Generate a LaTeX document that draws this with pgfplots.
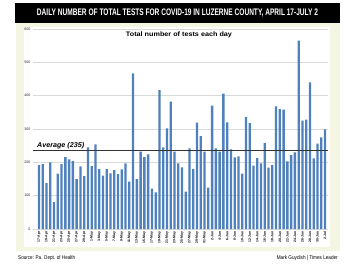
\documentclass[border=0pt]{standalone}
\usepackage{pgfplots}
\pgfplotsset{compat=1.18}
\usepackage{pgfplotstable}
\usepackage{graphicx}
\usepackage{fontspec}
\setmainfont{Liberation Sans}
\definecolor{barblue}{RGB}{79,129,189}
\definecolor{cream}{RGB}{245,245,228}
\definecolor{gridgray}{RGB}{217,217,217}
\definecolor{ticktext}{RGB}{40,40,40}
\pgfplotstableread{
idx val
0 192
1 195
2 138
3 200
4 81
5 166
6 195
7 216
8 209
9 204
10 150
11 188
12 159
13 245
14 189
15 254
16 180
17 160
18 180
19 167
20 177
21 165
22 179
23 197
24 142
25 467
26 150
27 232
28 216
29 224
30 121
31 110
32 417
33 245
34 302
35 382
36 232
37 197
38 185
39 112
40 242
41 180
42 319
43 279
44 232
45 124
46 370
47 242
48 232
49 406
50 320
51 239
52 215
53 218
54 166
55 336
56 318
57 190
58 213
59 197
60 258
61 184
62 192
63 368
64 360
65 358
66 203
67 222
68 230
69 565
70 325
71 328
72 440
73 212
74 256
75 275
76 299
}\datatable
\begin{document}
\begin{tikzpicture}
\fill[white] (0pt,0pt) rectangle (360pt,-279pt);
\fill[black] (15pt,-3pt) rectangle (340pt,-23pt);
\fill[cream] (16pt,-23pt) rectangle (340pt,-251pt);
\fill[white] (24pt,-27pt) rectangle (330pt,-247pt);
\begin{axis}[
  at={(33pt,-229pt)}, anchor=south west,
  scale only axis, width=295pt, height=200pt,
  ymin=0, ymax=600, xmin=-1.6, xmax=76.8,
  ytick={0,100,...,600},
  xtick={0,2,...,76},
  xticklabels={17-Apr,19-Apr,21-Apr,23-Apr,25-Apr,27-Apr,29-Apr,1-May,3-May,5-May,7-May,9-May,11-May,13-May,15-May,17-May,19-May,21-May,23-May,25-May,27-May,29-May,31-May,2-Jun,4-Jun,6-Jun,8-Jun,10-Jun,12-Jun,14-Jun,16-Jun,18-Jun,20-Jun,22-Jun,24-Jun,26-Jun,28-Jun,30-Jun,2-Jul},
  /pgf/number format/assume math mode=true,
  yticklabel style={font=\fontsize{3.6}{4}\selectfont, text=ticktext},
  xticklabel style={font=\fontsize{3.4}{4}\selectfont\bfseries, text=black, rotate=90, anchor=east},
  ymajorgrids, grid style={gridgray, line width=0.5pt},
  axis line style={draw=none},
  major tick length=0pt,
  yticklabel shift=-1pt,
  xticklabel shift=-1pt,
  ybar, bar width=2.3pt,
  clip=false,
]
\addplot[fill=barblue, draw=none] table[x=idx, y=val] {\datatable};
\draw[black!80, line width=0.8pt] (axis cs:-1.6,235) -- (axis cs:76.8,235);
\end{axis}
\node[text=white, font=\fontsize{9.5}{10}\selectfont\bfseries, anchor=center] at (177.5pt,-13pt) {\resizebox{281pt}{\height}{DAILY NUMBER OF TOTAL TESTS FOR COVID-19 IN LUZERNE COUNTY, APRIL 17-JULY 2}};
\node[font=\fontsize{6.5}{7}\selectfont\bfseries, anchor=center, inner sep=0pt] at (179pt,-34.5pt) {\resizebox{106pt}{\height}{Total number of tests each day}};
\node[font=\fontsize{7}{8}\selectfont\bfseries\itshape, anchor=west, inner sep=0pt] at (37pt,-146pt) {\resizebox{47pt}{\height}{Average (235)}};
\node[font=\fontsize{5.5}{6}\selectfont, anchor=west, inner sep=0pt] at (18pt,-258pt) {\resizebox{57pt}{\height}{Source: Pa. Dept. of Health}};
\node[font=\fontsize{5.5}{6}\selectfont, anchor=east, inner sep=0pt] at (338pt,-258pt) {\resizebox{61pt}{\height}{Mark Guydish | Times Leader}};
\end{tikzpicture}
\end{document}
